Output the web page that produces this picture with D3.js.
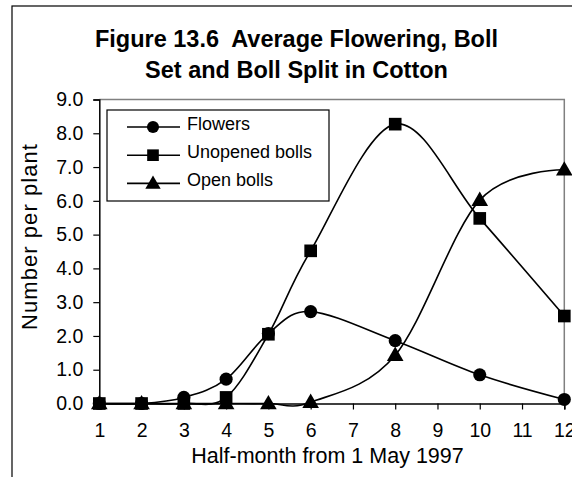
<!DOCTYPE html>
<html><head><meta charset="utf-8">
<script src="https://cdn.jsdelivr.net/npm/d3@7"></script>
<style>body{margin:0;background:#fff}svg{display:block}text{font-family:Arial,"Liberation Sans",sans-serif;fill:#000}</style>
</head><body>
<script>
const halfMonths = [1, 2, 3, 4, 5, 6, 8, 10, 12];
const flowers = [0, 0, 0.18, 0.72, 2.07, 2.72, 1.86, 0.85, 0.12];
const unopenedBolls = [0, 0, 0, 0.18, 2.05, 4.52, 8.27, 5.48, 2.59];
const openBolls = [0, 0, 0, 0, 0, 0.04, 1.43, 6.02, 6.92];
const seriesNames = ["Flowers", "Unopened bolls", "Open bolls"];
const yTicks = [0, 1, 2, 3, 4, 5, 6, 7, 8, 9];
const xTicks = [1, 2, 3, 4, 5, 6, 7, 8, 9, 10, 11, 12];
const titleLines = ["Figure 13.6  Average Flowering, Boll", "Set and Boll Split in Cotton"];
const xTitle = "Half-month from 1 May 1997";
const yTitle = "Number per plant";

const W = 572, H = 477;
const svg = d3.select("body").append("svg").attr("width", W).attr("height", H);

// outer chart frame (extends past the window)
svg.append("rect").attr("x", 12).attr("y", 6).attr("width", 700).attr("height", 600)
  .attr("fill", "none").attr("stroke", "#000").attr("stroke-width", 1.2);

const x = d3.scaleLinear().domain([1, 12]).range([99.3, 564.3]);
const y = d3.scaleLinear().domain([0, 9]).range([403.5, 99.5]);

// title
svg.selectAll("text.title").data(titleLines).join("text")
  .attr("x", 296.5).attr("y", (d, i) => 47 + i * 31)
  .attr("text-anchor", "middle").style("font-weight", "bold").style("font-size", "23.5px")
  .style("white-space", "pre").attr("xml:space", "preserve")
  .text(d => d);

// plot area border (gray top & right)
svg.append("path")
  .attr("d", `M${x(1)},${y(9)}H${x(12)}V${y(0)}`)
  .attr("fill", "none").attr("stroke", "#808080").attr("stroke-width", 1.5);

// axes
const yAxis = d3.axisLeft(y).tickValues(yTicks).tickSize(6).tickPadding(10).tickFormat(d3.format(".1f"));
const gy = svg.append("g").attr("transform", `translate(${x(1)},0)`).call(yAxis);
gy.select(".domain").attr("stroke", "#000").attr("stroke-width", 1.5);
gy.selectAll(".tick line").attr("stroke", "#000").attr("stroke-width", 1.2);
gy.selectAll(".tick text").style("font-size", "19.5px").style("font-family", "Arial, 'Liberation Sans', sans-serif").attr("fill", "#000").attr("x", -16);

const xAxis = d3.axisBottom(x).tickValues(xTicks).tickSize(6).tickPadding(14).tickFormat(d3.format("d"));
const gx = svg.append("g").attr("transform", `translate(0,${y(0)})`).call(xAxis);
gx.select(".domain").attr("stroke", "#000").attr("stroke-width", 1.5);
gx.selectAll(".tick line").attr("stroke", "#000").attr("stroke-width", 1.2);
gx.selectAll(".tick text").style("font-size", "19.5px").style("font-family", "Arial, 'Liberation Sans', sans-serif").attr("fill", "#000");

// axis titles
svg.append("text").attr("x", 327.5).attr("y", 463).attr("text-anchor", "middle")
  .style("font-size", "21.5px").text(xTitle);
svg.append("text").attr("transform", "translate(37,237) rotate(-90)").attr("text-anchor", "middle")
  .style("font-size", "22px").attr("textLength", 186).attr("lengthAdjust", "spacing").text(yTitle);

// series
const seriesData = [flowers, unopenedBolls, openBolls];
const symbols = [d3.symbolCircle, d3.symbolSquare, d3.symbolTriangle];
const symSizes = [135, 160, 120];
const line = d3.line().x(d => x(d[0])).y(d => y(d[1])).curve(d3.curveCardinal.tension(0));

seriesData.forEach((vals, si) => {
  const pts = halfMonths.map((h, i) => [h, vals[i]]);
  svg.append("path").datum(pts).attr("d", line)
    .attr("fill", "none").attr("stroke", "#000").attr("stroke-width", 1.6);
});
seriesData.forEach((vals, si) => {
  const pts = halfMonths.map((h, i) => [h, vals[i]]);
  svg.append("g").selectAll("path").data(pts).join("path")
    .attr("transform", d => `translate(${x(d[0])},${y(d[1]) + (si === 2 ? 1 : 0)})`)
    .attr("d", d3.symbol().type(symbols[si]).size(symSizes[si]))
    .attr("fill", "#000");
});

// legend
const lg = svg.append("g");
lg.append("rect").attr("x", 107).attr("y", 110).attr("width", 222).attr("height", 91)
  .attr("fill", "#fff").attr("stroke", "#000").attr("stroke-width", 1.2);
seriesNames.forEach((name, i) => {
  const cy = 127 + i * 28.2;
  lg.append("line").attr("x1", 127).attr("x2", 180).attr("y1", cy).attr("y2", cy)
    .attr("stroke", "#000").attr("stroke-width", 1.6);
  lg.append("path").attr("transform", `translate(153,${cy + (i === 2 ? 1 : 0)})`)
    .attr("d", d3.symbol().type(symbols[i]).size(symSizes[i] * 0.85)).attr("fill", "#000");
  lg.append("text").attr("x", 187).attr("y", cy + 3).style("font-size", "18px").text(name);
});
</script>
</body></html>
